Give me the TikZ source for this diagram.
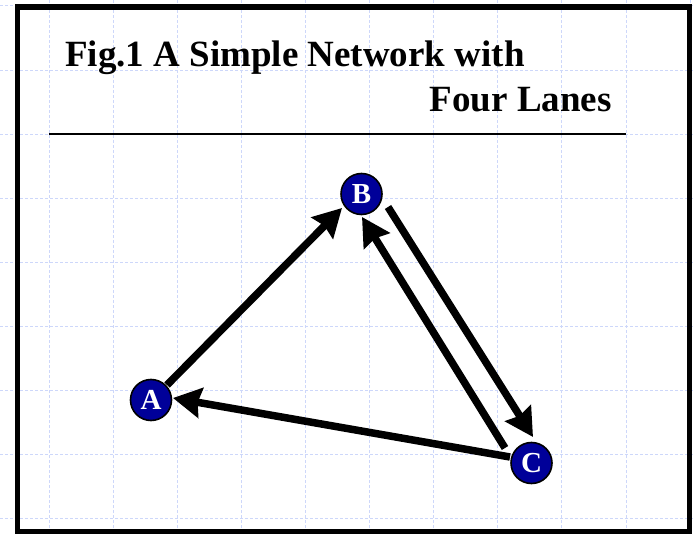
\documentclass[tikz,border=0pt]{standalone}
\usepackage{fontspec}
\setmainfont{Liberation Serif}
\usetikzlibrary{arrows.meta}
\definecolor{gridblue}{RGB}{205,215,250}
\definecolor{nodeblue}{RGB}{0,0,153}
\tikzset{
  gridline/.style={gridblue, line width=0.8pt, dash pattern=on 3pt off 2pt},
  netnode/.style={circle, draw=black, line width=1.6pt, fill=nodeblue, minimum size=41pt, inner sep=0pt, text=white, font=\fontsize{29}{29}\selectfont\bfseries},
  lane/.style={line width=7.5pt, -{Stealth[length=28pt,width=30pt,inset=3pt]}},
  titletext/.style={inner sep=0pt, font=\fontsize{37}{37}\selectfont\bfseries}
}
\begin{document}
\begin{tikzpicture}[x=1pt,y=1pt]
\useasboundingbox (0,0) rectangle (693,533);
\fill[white] (0,0) rectangle (693,533);
% grid
\foreach \k in {0,...,10} {
  \draw[gridline] ({49+64.1*\k},0) -- ({49+64.1*\k},533);
}
\foreach \k in {-1,...,7} {
  \draw[gridline] (0,{533-70-64.1*\k}) -- (693,{533-70-64.1*\k});
}
% frame
\draw[line width=5.5pt] (17.5,1) rectangle (689.5,526);
% title
\node[titletext, anchor=base west] (t1) at (65,466) {Fig.1 A Simple Network with};
\node[titletext, anchor=base east] (t2) at (612,421) {Four Lanes};
\draw[line width=1.8pt] (49,399) -- (626,399);
% nodes
\node[netnode] (A) at (151,133) {A};
\node[netnode] (B) at (361.5,339) {B};
\node[netnode] (C) at (531.5,70) {C};
% lanes
\draw[lane] ([shift={(16,15)}]A.center) -- ([shift={(-19.5,-14)}]B.center);
\draw[lane] ([shift={(26.5,-13)}]B.center) -- ([shift={(1.5,26)}]C.center);
\draw[lane] ([shift={(-26.5,15)}]C.center) -- ([shift={(0.5,-23)}]B.center);
\draw[lane] ([shift={(-21.5,6)}]C.center) -- ([shift={(22,2)}]A.center);
\end{tikzpicture}
\end{document}
